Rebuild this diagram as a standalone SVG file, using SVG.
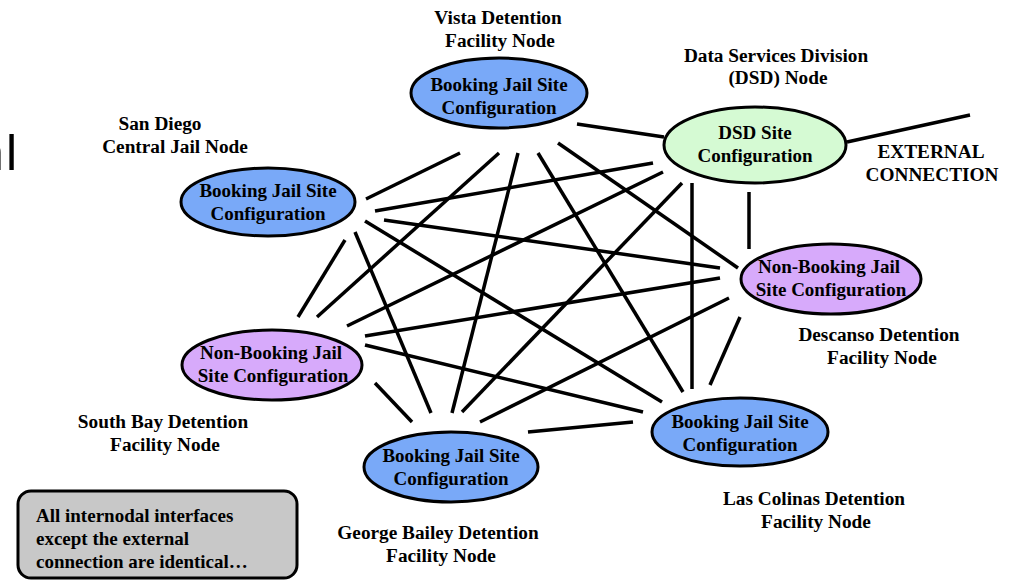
<svg xmlns="http://www.w3.org/2000/svg" width="1013" height="581" viewBox="0 0 1013 581">
<style>
text{font-family:"Liberation Serif","Times New Roman",serif;font-weight:bold;font-size:19px;fill:#000}
.c{text-anchor:middle}
.lab{font-size:19.3px}
.booking{fill:#79A9F8;stroke:#000;stroke-width:3}
.nonbooking{fill:#D7AAFB;stroke:#000;stroke-width:3}
.dsd{fill:#D5FAD3;stroke:#000;stroke-width:3}
#connectors line{stroke:#000;stroke-width:3.5;stroke-linecap:butt}
.note{fill:#C8C8C8;stroke:#000;stroke-width:3}
.frag{font-family:"Liberation Sans",Arial,sans-serif;font-weight:normal;font-size:50px}
</style>
<rect width="1013" height="581" fill="#fff"/>
<text class="frag" y="170"><tspan x="-24">n</tspan><tspan x="6">l</tspan></text>
<g id="connectors">
<line x1="577" y1="124" x2="664" y2="137"/>
<line x1="847" y1="142" x2="970" y2="115"/>
<line x1="366" y1="199" x2="460" y2="153"/>
<line x1="317" y1="317" x2="499" y2="153"/>
<line x1="452" y1="413" x2="518" y2="153"/>
<line x1="538" y1="153" x2="683" y2="392"/>
<line x1="558" y1="143" x2="738" y2="268"/>
<line x1="375" y1="211" x2="653" y2="163"/>
<line x1="347" y1="326" x2="663" y2="172"/>
<line x1="462" y1="412" x2="682" y2="183"/>
<line x1="749" y1="192" x2="749" y2="249"/>
<line x1="692" y1="183" x2="692" y2="389"/>
<line x1="384" y1="220" x2="720" y2="268"/>
<line x1="365" y1="221" x2="662" y2="402"/>
<line x1="355" y1="232" x2="431" y2="413"/>
<line x1="345" y1="240" x2="298" y2="317"/>
<line x1="365" y1="336" x2="720" y2="278"/>
<line x1="365" y1="345" x2="643" y2="412"/>
<line x1="375" y1="383" x2="412" y2="422"/>
<line x1="480" y1="422" x2="729" y2="298"/>
<line x1="528" y1="432" x2="633" y2="422"/>
<line x1="710" y1="385" x2="740" y2="317"/>
</g>
<g id="vista">
<text class="c lab" x="498" y="24">Vista Detention</text>
<text class="c lab" x="500" y="47">Facility Node</text>
<ellipse class="booking" cx="499" cy="93" rx="88" ry="35"/>
<text class="c" x="499" y="91">Booking Jail Site</text>
<text class="c" x="499" y="114">Configuration</text>
</g>
<g id="dsd">
<text class="c lab" x="776" y="62">Data Services Division</text>
<text class="c lab" x="778" y="84">(DSD) Node</text>
<ellipse class="dsd" cx="755" cy="145" rx="91" ry="38"/>
<text class="c" x="755" y="139">DSD Site</text>
<text class="c" x="755" y="162">Configuration</text>
</g>
<g id="external">
<text class="c lab" x="931" y="158">EXTERNAL</text>
<text class="c lab" x="932" y="181">CONNECTION</text>
</g>
<g id="sandiego">
<text class="c lab" x="160" y="130">San Diego</text>
<text class="c lab" x="175" y="153">Central Jail Node</text>
<ellipse class="booking" cx="268" cy="202" rx="87" ry="34"/>
<text class="c" x="268" y="197">Booking Jail Site</text>
<text class="c" x="268" y="220">Configuration</text>
</g>
<g id="descanso">
<ellipse class="nonbooking" cx="831" cy="279" rx="90" ry="35"/>
<text class="c" x="829" y="273">Non-Booking Jail</text>
<text class="c" x="831" y="296">Site Configuration</text>
<text class="c lab" x="879" y="341">Descanso Detention</text>
<text class="c lab" x="882" y="364">Facility Node</text>
</g>
<g id="southbay">
<ellipse class="nonbooking" cx="272" cy="365" rx="90" ry="35"/>
<text class="c" x="271" y="359">Non-Booking Jail</text>
<text class="c" x="273" y="382">Site Configuration</text>
<text class="c lab" x="163" y="428">South Bay Detention</text>
<text class="c lab" x="165" y="451">Facility Node</text>
</g>
<g id="georgebailey">
<ellipse class="booking" cx="451" cy="467" rx="87" ry="35"/>
<text class="c" x="451" y="462">Booking Jail Site</text>
<text class="c" x="451" y="485">Configuration</text>
<text class="c lab" x="438" y="539">George Bailey Detention</text>
<text class="c lab" x="441" y="562">Facility Node</text>
</g>
<g id="lascolinas">
<ellipse class="booking" cx="740" cy="432" rx="88" ry="34"/>
<text class="c" x="740" y="428">Booking Jail Site</text>
<text class="c" x="740" y="451">Configuration</text>
<text class="c lab" x="814" y="505">Las Colinas Detention</text>
<text class="c lab" x="816" y="528">Facility Node</text>
</g>
<g id="note">
<rect class="note" x="18" y="491" width="279" height="87" rx="13"/>
<text x="36" y="522">All internodal interfaces</text>
<text x="36" y="545">except the external</text>
<text x="36" y="568">connection are identical…</text>
</g>
</svg>
